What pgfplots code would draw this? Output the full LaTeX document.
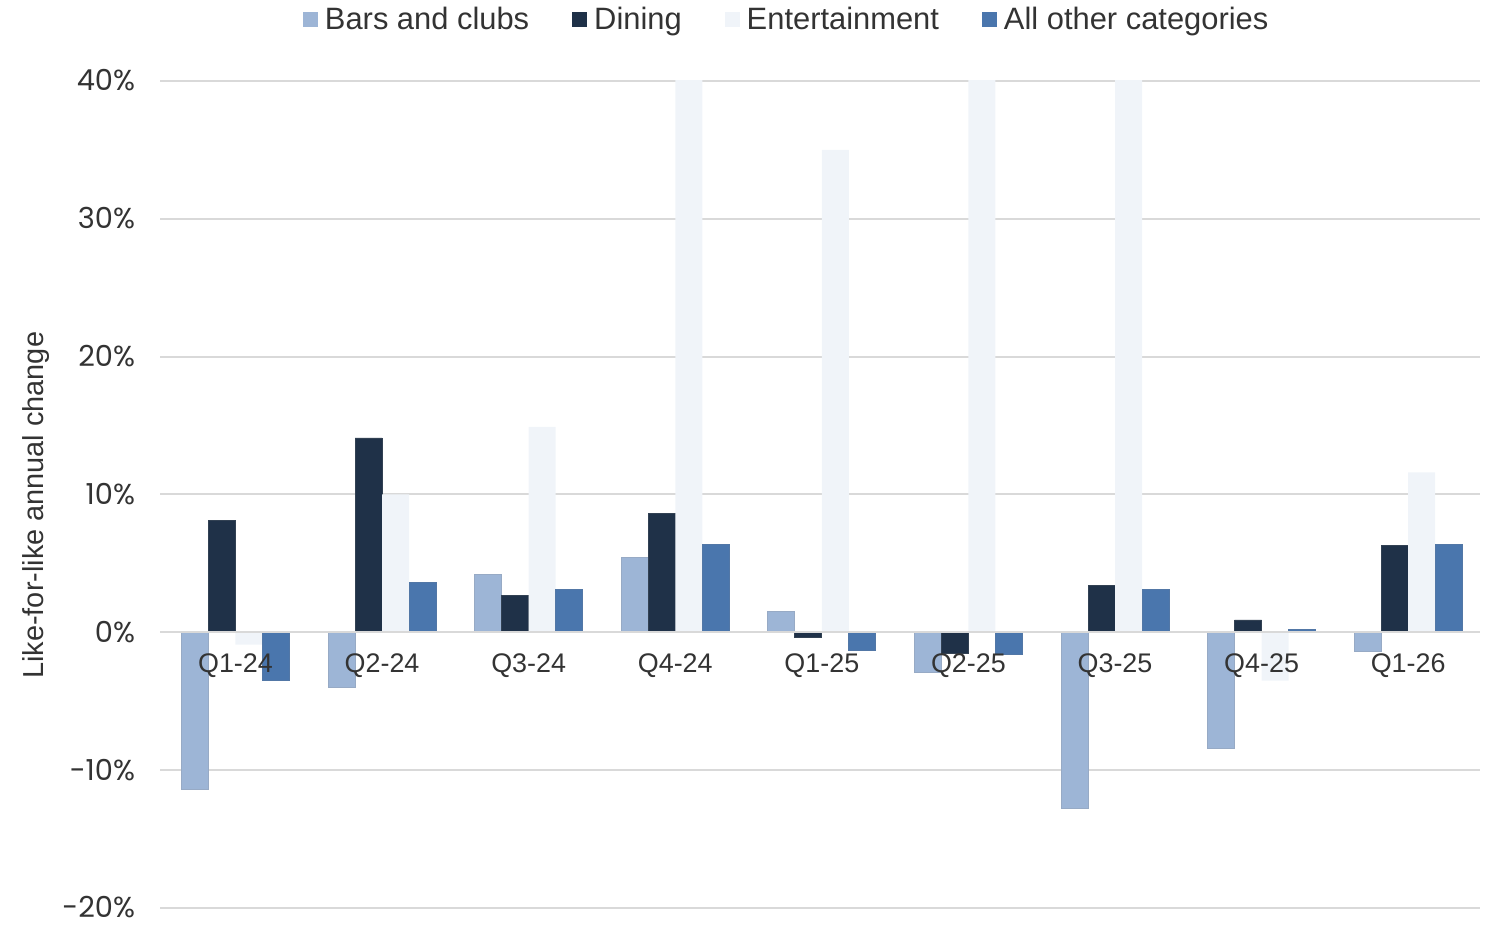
\documentclass[border=0pt]{standalone}
\usepackage{fontspec}
\setmainfont{Liberation Sans}
\newfontfamily\popp{Poppins}
\usepackage{pgfplots}
\pgfplotsset{compat=1.18}
\definecolor{cbars}{HTML}{9DB5D6}
\definecolor{cdin}{HTML}{1F3148}
\definecolor{cent}{HTML}{F0F4F9}
\definecolor{coth}{HTML}{4A76AD}
\definecolor{cgrid}{HTML}{D9D9D9}
\definecolor{ctxt}{HTML}{333333}
\begin{document}
\begin{tikzpicture}
\begin{axis}[
  set layers,
  clip mode=individual,
  every axis plot/.append style={on layer=axis ticks},
  scale only axis, width=660bp, height=413.5bp,
  xmin=-0.515, xmax=8.49, ymin=-20, ymax=40,
  ybar=0pt, bar width=13.5bp,
  axis x line*=middle, axis y line*=left,
  x axis line style={draw=cgrid, line width=1bp, -},
  y axis line style={draw=none, -},
  xtick=data,
  xticklabels={Q1-24,Q2-24,Q3-24,Q4-24,Q1-25,Q2-25,Q3-25,Q4-25,Q1-26},
  ytick={-20,-10,0,10,20,30,40},
  yticklabels={-20\%,-10\%,0\%,10\%,20\%,30\%,40\%},
  major tick length=0pt,
  ymajorgrids, grid style={draw=cgrid, line width=1bp},
  xticklabel style={font=\fontsize{13.5}{16}\selectfont, text=ctxt, yshift=-7bp},
  yticklabel style={font=\popp\fontsize{14.5}{16}\selectfont, text=ctxt, inner sep=0pt, text height=10bp, text depth=0pt, xshift=-12.3bp},
  ylabel={Like-for-like annual change},
  ylabel style={at={(rel axis cs:-0.094,0.487)}, anchor=center, font=\fontsize{14.5}{17}\selectfont, text=ctxt},
  legend columns=-1,
  legend style={draw=none, fill=none, at={(rel axis cs:0.108,1)}, anchor=south west, yshift=22bp,
    font=\fontsize{15.5}{18}\selectfont, text=ctxt, inner sep=0pt,
    /tikz/every even column/.append style={column sep=19.5bp},
    /tikz/every odd column/.append style={column sep=1.5bp}},
  legend image code/.code={\fill[#1,draw=none] (0bp,-3.75bp) rectangle (7.5bp,3.75bp);},
]
\addplot[fill=cbars, draw=cbars!80!gray] coordinates {(0,-11.4) (1,-4.0) (2,4.2) (3,5.4) (4,1.5) (5,-2.9) (6,-12.8) (7,-8.4) (8,-1.4)};
\addplot[fill=cdin, draw=cdin!80!gray] coordinates {(0,8.1) (1,14.1) (2,2.7) (3,8.6) (4,-0.4) (5,-1.5) (6,3.4) (7,0.9) (8,6.3)};
\addplot[fill=cent, draw=none] coordinates {(0,-0.9) (1,10.0) (2,14.9) (3,48) (4,35.0) (5,48) (6,48) (7,-3.5) (8,11.6)};
\addplot[fill=coth, draw=coth!85!gray] coordinates {(0,-3.5) (1,3.6) (2,3.1) (3,6.4) (4,-1.3) (5,-1.6) (6,3.1) (7,0.2) (8,6.4)};
\legend{Bars and clubs, Dining, Entertainment, All other categories}
\coordinate (bbsw) at (rel axis cs:0,0);
\coordinate (bbne) at (rel axis cs:1,1);
\end{axis}
\pgfresetboundingbox
\useasboundingbox ([xshift=-80bp,yshift=-9bp]bbsw) rectangle ([xshift=4bp,yshift=40.5bp]bbne);
\end{tikzpicture}
\end{document}
